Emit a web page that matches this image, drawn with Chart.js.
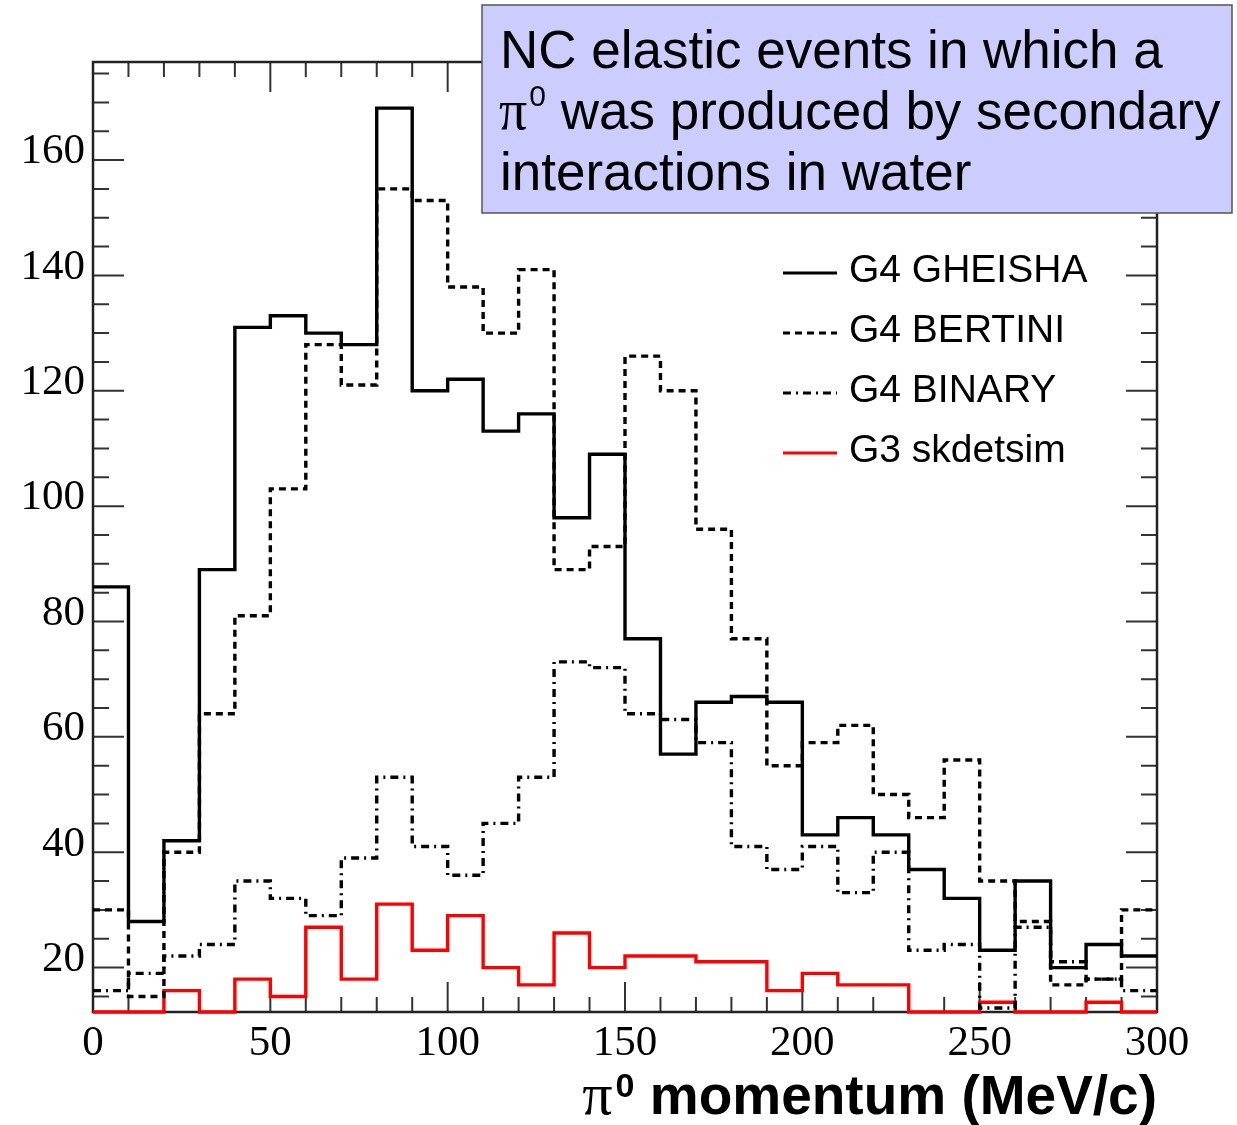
<!DOCTYPE html>
<html lang="en">
<head>
<meta charset="utf-8">
<script src="https://cdn.jsdelivr.net/npm/chart.js@4.4.0/dist/chart.umd.min.js"></script>
<style>
  html, body { margin: 0; padding: 0; background: #fff; }
  #wrap { width: 1237px; height: 1125px; position: relative; }
</style>
</head>
<body>
<div id="wrap"><canvas id="myChart"></canvas></div>
<script>
// bin edges of the histogram (MeV/c)
const binEdges = [0, 10, 20, 30, 40, 50, 60, 70, 80, 90, 100, 110, 120, 130, 140, 150,
                  160, 170, 180, 190, 200, 210, 220, 230, 240, 250, 260, 270, 280, 290, 300];

// counts per bin
const gheisha  = [86, 28, 42, 89, 131, 133, 130, 128, 169, 120, 122, 113, 116, 98, 109,
                  77, 57, 66, 67, 66, 43, 46, 43, 37, 32, 23, 35, 20, 24, 22];
const bertini  = [30, 15, 40, 64, 81, 103, 128, 121, 155, 153, 138, 130, 141, 89, 93,
                  126, 120, 96, 77, 55, 59, 62, 50, 46, 56, 35, 28, 17, 18, 30];
const binary   = [16, 19, 22, 24, 35, 32, 29, 39, 53, 41, 36, 45, 53, 73, 72,
                  64, 63, 59, 41, 37, 41, 33, 40, 23, 24, 13, 27, 21, 18, 16];
const skdetsim = [0, 0, 16, 0, 18, 15, 27, 18, 31, 23, 29, 20, 17, 26, 20,
                  22, 22, 21, 21, 16, 19, 17, 17, 0, 0, 14, 0, 0, 14, 0];

const seriesNames = ['G4 GHEISHA', 'G4 BERTINI', 'G4 BINARY', 'G3 skdetsim'];
const xTicks = [0, 50, 100, 150, 200, 250, 300];
const yTicks = [20, 40, 60, 80, 100, 120, 140, 160];

const X_MIN = 0, X_MAX = 300;
const Y_MIN = 12.3, Y_MAX = 177;

const boxLines = ['NC elastic events in which a', 'was produced by secondary', 'interactions in water'];

// histogram -> step points (left edges + closing right edge), empty bins sit on the frame
function histPoints(values) {
    const pts = values.map((v, i) => ({ x: binEdges[i], y: Math.max(v, Y_MIN) }));
    pts.push({ x: binEdges[binEdges.length - 1], y: Math.max(values[values.length - 1], Y_MIN) });
    return pts;
}

function histDataset(label, values, color, dash) {
    return {
        label: label,
        data: histPoints(values),
        borderColor: color,
        borderWidth: 3.4,
        borderDash: dash,
        borderCapStyle: 'butt',
        borderJoinStyle: 'miter',
        stepped: 'before',
        pointRadius: 0,
        fill: false,
        clip: false
    };
}

const frameTicks = {
    id: 'frameTicks',
    beforeDatasetsDraw(chart) {
        const ctx = chart.ctx;
        const a = chart.chartArea;
        const xs = chart.scales.x, ys = chart.scales.y;
        ctx.save();
        ctx.strokeStyle = '#333';
        ctx.lineWidth = 2;
        ctx.beginPath();
        for (let v = 10; v < X_MAX; v += 10) {
            const px = xs.getPixelForValue(v);
            const len = v % 50 === 0 ? 30 : 15;
            ctx.moveTo(px, a.bottom); ctx.lineTo(px, a.bottom - len);
            ctx.moveTo(px, a.top); ctx.lineTo(px, a.top + len);
        }
        for (let v = 15; v < Y_MAX; v += 5) {
            const py = ys.getPixelForValue(v);
            const len = v % 20 === 0 ? 31 : 16;
            ctx.moveTo(a.left, py); ctx.lineTo(a.left + len, py);
            ctx.moveTo(a.right, py); ctx.lineTo(a.right - len, py);
        }
        ctx.stroke();
        ctx.strokeStyle = '#222';
        ctx.lineWidth = 2.5;
        ctx.strokeRect(a.left, a.top, a.right - a.left, a.bottom - a.top);
        ctx.restore();
    },
    afterDraw(chart) {
        const ctx = chart.ctx;
        const a = chart.chartArea;
        ctx.save();

        // legend
        const sets = chart.data.datasets;
        ctx.textBaseline = 'alphabetic';
        ctx.font = '39px "Liberation Sans", Arial, sans-serif';
        sets.forEach((ds, i) => {
            const ly = 273 + i * 60;
            ctx.strokeStyle = ds.borderColor;
            ctx.lineWidth = 3;
            ctx.setLineDash(ds.borderDash || []);
            ctx.beginPath();
            ctx.moveTo(783, ly); ctx.lineTo(837, ly);
            ctx.stroke();
            ctx.setLineDash([]);
            ctx.fillStyle = '#000';
            ctx.fillText(ds.label, 849, ly + 9);
        });

        // annotation box
        ctx.fillStyle = '#ccccff';
        ctx.fillRect(482, 5, 750, 208);
        ctx.strokeStyle = '#555';
        ctx.lineWidth = 1.5;
        ctx.strokeRect(482, 5, 750, 208);
        ctx.fillStyle = '#000';
        ctx.font = '53px "Liberation Sans", Arial, sans-serif';
        ctx.fillText(boxLines[0], 500, 68);
        ctx.font = '56px "Liberation Serif", "Times New Roman", serif';
        ctx.fillText('\u03c0', 499, 129);
        let px = 499 + ctx.measureText('\u03c0').width + 2;
        ctx.font = '30px "Liberation Sans", Arial, sans-serif';
        ctx.fillText('0', px, 106);
        px += ctx.measureText('0').width;
        ctx.font = '53px "Liberation Sans", Arial, sans-serif';
        ctx.fillText(' ' + boxLines[1], px, 129);
        ctx.fillText(boxLines[2], 500, 190);

        // x axis title, right aligned with the frame
        ctx.font = 'bold 55px "Liberation Sans", Arial, sans-serif';
        const rest = ' momentum (MeV/c)';
        const wRest = ctx.measureText(rest).width;
        ctx.font = 'bold 34px "Liberation Sans", Arial, sans-serif';
        const wSup = ctx.measureText('0').width;
        ctx.font = '60px "Liberation Serif", "Times New Roman", serif';
        const wPi = ctx.measureText('\u03c0').width;
        let tx = a.right - wRest - wSup - wPi - 3;
        const ty = 1114;
        ctx.fillText('\u03c0', tx, ty);
        tx += wPi + 3;
        ctx.font = 'bold 34px "Liberation Sans", Arial, sans-serif';
        ctx.fillText('0', tx, ty - 17);
        tx += wSup;
        ctx.font = 'bold 55px "Liberation Sans", Arial, sans-serif';
        ctx.fillText(rest, tx, ty);
        ctx.restore();
    }
};

const config = {
    type: 'line',
    data: {
        datasets: [
            histDataset(seriesNames[0], gheisha, '#000000', []),
            histDataset(seriesNames[1], bertini, '#000000', [7, 5]),
            histDataset(seriesNames[2], binary, '#000000', [8, 5, 2, 5]),
            histDataset(seriesNames[3], skdetsim, '#ff0000', [])
        ]
    },
    options: {
        responsive: true,
        maintainAspectRatio: false,
        animation: false,
        events: [],
        layout: { padding: { left: 0, right: 80, top: 62, bottom: 0 } },
        plugins: {
            legend: { display: false },
            tooltip: { enabled: false }
        },
        scales: {
            x: {
                type: 'linear',
                min: X_MIN,
                max: X_MAX,
                grid: { display: false, drawTicks: false },
                border: { display: false },
                afterBuildTicks: s => { s.ticks = xTicks.map(v => ({ value: v })); },
                afterFit: s => { s.height = 113; },
                ticks: {
                    padding: 6,
                    color: '#000',
                    maxRotation: 0,
                    autoSkip: false,
                    font: { family: '"Liberation Serif", "Times New Roman", serif', size: 43 }
                }
            },
            y: {
                type: 'linear',
                min: Y_MIN,
                max: Y_MAX,
                grid: { display: false, drawTicks: false },
                border: { display: false },
                afterBuildTicks: s => { s.ticks = yTicks.map(v => ({ value: v })); },
                afterFit: s => { s.width = 93; },
                ticks: {
                    padding: 8,
                    labelOffset: -8,
                    color: '#000',
                    autoSkip: false,
                    font: { family: '"Liberation Serif", "Times New Roman", serif', size: 43 }
                }
            }
        }
    },
    plugins: [frameTicks]
};

const myChart = new Chart(document.getElementById('myChart'), config);
</script>
</body>
</html>
